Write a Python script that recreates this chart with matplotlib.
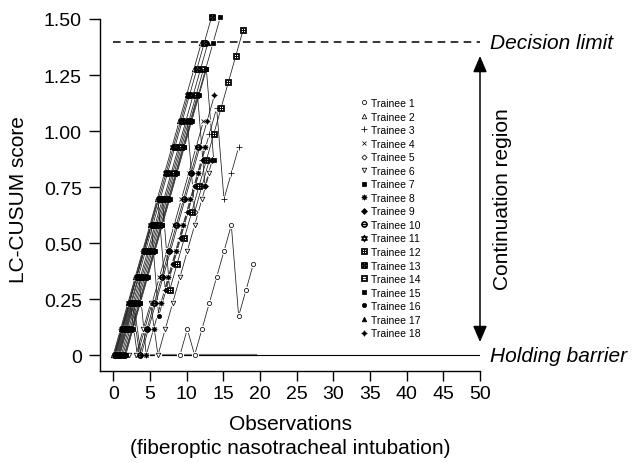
import numpy as np
import matplotlib
matplotlib.use('Agg')
import matplotlib.pyplot as plt
from matplotlib.lines import Line2D

plt.rcParams['font.family'] = ['Liberation Sans', 'DejaVu Sans']

# LC-CUSUM scores, one list per trainee
labels = ['Trainee %d' % i for i in range(1, 19)]

# x position of each trainee's first point (small offsets keep the curves apart)
x_start = [9.1, 0.0, 0.1, 0.3, 1.1, 2.1, 0.7, 0.5, 1.5,
           0.6, 0.2, 0.7, 0.4, 1.3, 0.6, 0.2, 0.9, 0.8]

t1 = [0, .116, 0, .116, .232, .348, .464, .58, .174, .29, .406]
t2 = [0, .116, .232, .348, .464, .58, .696, .812, .928, 1.044, 1.16, 1.276, 1.392]
t3 = [0, .116, .232, .348, .464, .58, .696, .29, .406, .522, .638, .754, .87,
      .986, 1.102, .696, .812, .928]
t4 = [0, .116, .232, 0, .116, .232, .348, .464, .58, .696, .812, .928, 1.044]
t5 = [0, .116, .232, .348, .464, .58, .696, .812, .928, 1.044, .638, .754, .87]
t6 = [0, 0, .116, .232, 0, .116, .232, .348, .464, .58, .696, .812]
t7 = [0, 0, .116, .232, .348, .464, .58, .696, .812, .928, 1.044, 1.16, 1.276, .87]
t8 = [0, .116, .232, .348, 0, .116, .232, .348, .464, .58, .696, .812, .928]
t9 = [0, .116, .232, .348, .464, .58, .696, .812, .928, 1.044, 1.16, .754, .87]
t10 = [0, .116, .232, 0, .116, .232, .348, .464, .58, .696, .812, .928]
t11 = [0, .116, .232, .348, .464, .58, .696, .812, .928, 1.044, 1.16]
t12 = [0, .116, .232, .348, .464, .58, .696, .29, .406, .522, .638, .754, .87,
       .986, 1.102, 1.218, 1.334, 1.45]
t13 = [0, .116, .232, .348, .464, .58, .696, .812, .928, 1.044, 1.16, 1.276,
       1.392, 1.508]
t14 = [0, .116, .232, .348, .464, .58, .696, .812, .928, 1.044, 1.16, 1.276]
t15 = [0, 0, .116, .232, .348, .464, .58, .696, .812, .928, 1.044, 1.16, 1.276,
       1.392, 1.508]
t16 = [0, .116, .232, .348, .464, .58, .174, .29, .406, .522, .638, .754, .87]
t17 = [0, .116, .232, .348, .464, .58, .696, .812, .928, 1.044, 1.16, 1.276, 1.392]
t18 = [0, .116, .232, 0, .116, .232, .348, .464, .58, .696, .812, .928, 1.044, 1.16]
scores = [t1, t2, t3, t4, t5, t6, t7, t8, t9, t10, t11, t12, t13, t14, t15,
          t16, t17, t18]

decision_limit = 1.397

# marker, size, face colour
styles = [('o', 3.0, 'white'), ('^', 3.3, 'white'), ('+', 4.5, 'black'),
          ('x', 3.0, 'black'), ('D', 2.6, 'white'), ('v', 3.3, 'white'),
          ('s', 2.4, 'black'), ((8, 1, 0), 4.0, 'black'), ('D', 3.0, 'black'),
          (r'$\ominus$', 4.2, 'black'), ('$\u2721$', 5, 'black'),
          (r'$\boxplus$', 4.2, 'black'), (r'$\boxtimes$', 4.2, 'black'),
          (r'$\boxminus$', 4.2, 'black'), ('s', 3.2, 'black'),
          ('o', 3.0, 'black'), ('^', 3.3, 'black'), ((4, 1, 0), 4.0, 'black')]

fig = plt.figure(figsize=(6.33, 4.64), dpi=100)
ax = fig.add_axes([100 / 633, 1 - 372 / 464, 380 / 633, 352 / 464])

# holding barrier and decision limit
ax.plot([0, 19.5], [0, 0], color='0.5', lw=1.6, zorder=1)
ax.plot([0, 50], [0, 0], color='black', lw=0.8, zorder=1)
ax.plot([0, 50], [decision_limit, decision_limit], color='black', lw=1.1,
        ls=(0, (5, 3.5)), zorder=1)

for x0, y in zip(x_start, scores):
    x = x0 + np.arange(len(y))
    ax.plot(x, y, color='0.1', lw=0.55, zorder=2, clip_on=False)
for x0, y in zip(x_start, scores):
    x = x0 + np.arange(len(y))
    ax.plot(x, y, ls='none', marker='o', ms=5.2, mfc='white', mec='none',
            zorder=3, clip_on=False)
handles = []
for (m, ms, fc), x0, y, lab in zip(styles, x_start, scores, labels):
    x = x0 + np.arange(len(y))
    ax.plot(x, y, ls='none', marker=m, ms=ms, mfc=fc, mec='black', mew=0.55,
            zorder=4, clip_on=False)
    handles.append(Line2D([], [], ls='none', marker=m, ms=ms, mfc=fc,
                          mec='black', mew=0.55, label=lab))

ax.set_xlim(-1.8, 50)
ax.set_ylim(-0.071, 1.5)
ax.set_xticks(np.arange(0, 51, 5))
ax.set_yticks([0, 0.25, 0.5, 0.75, 1.0, 1.25, 1.5])
ax.set_yticklabels(['0', '0.25', '0.50', '0.75', '1.00', '1.25', '1.50'])
ax.tick_params(axis='y', direction='out', length=8, width=1, labelsize=14, pad=5)
ax.tick_params(axis='x', direction='out', length=7, width=1, labelsize=14, pad=3)
for side in ['top', 'right']:
    ax.spines[side].set_visible(False)
for side in ['left', 'bottom']:
    ax.spines[side].set_linewidth(1)

ax.set_ylabel('LC-CUSUM score', fontsize=15)
ax.yaxis.set_label_coords((28 - 100) / 380, (372 - 200) / 352)
fig.text(290 / 633, 1 - 424 / 464, 'Observations', fontsize=15,
         ha='center', va='center')
fig.text(290 / 633, 1 - 449 / 464, '(fiberoptic nasotracheal intubation)',
         fontsize=15, ha='center', va='center')

ax.legend(handles=handles, loc='upper left', bbox_to_anchor=(360 / 633, 1 - 99 / 464),
          bbox_transform=fig.transFigure, frameon=False, fontsize=7.5,
          handlelength=0.8, handletextpad=0.3, labelspacing=0.34, borderpad=0,
          borderaxespad=0)

ax.text(51.3, decision_limit, 'Decision limit', style='italic', fontsize=15,
        va='center', ha='left', clip_on=False)
ax.text(51.3, 0, 'Holding barrier', style='italic', fontsize=15,
        va='center', ha='left', clip_on=False)
ax.annotate('', xy=(50, 1.335), xytext=(50, 0.058),
            arrowprops=dict(arrowstyle='<|-|>,head_length=0.7,head_width=0.3',
                            color='black', lw=1.1, mutation_scale=14,
                            shrinkA=0, shrinkB=0),
            annotation_clip=False)
ax.text(53.0, 0.70, 'Continuation region', rotation=90, fontsize=15,
        va='center', ha='center', clip_on=False)

fig.savefig('out.png', dpi=100)
